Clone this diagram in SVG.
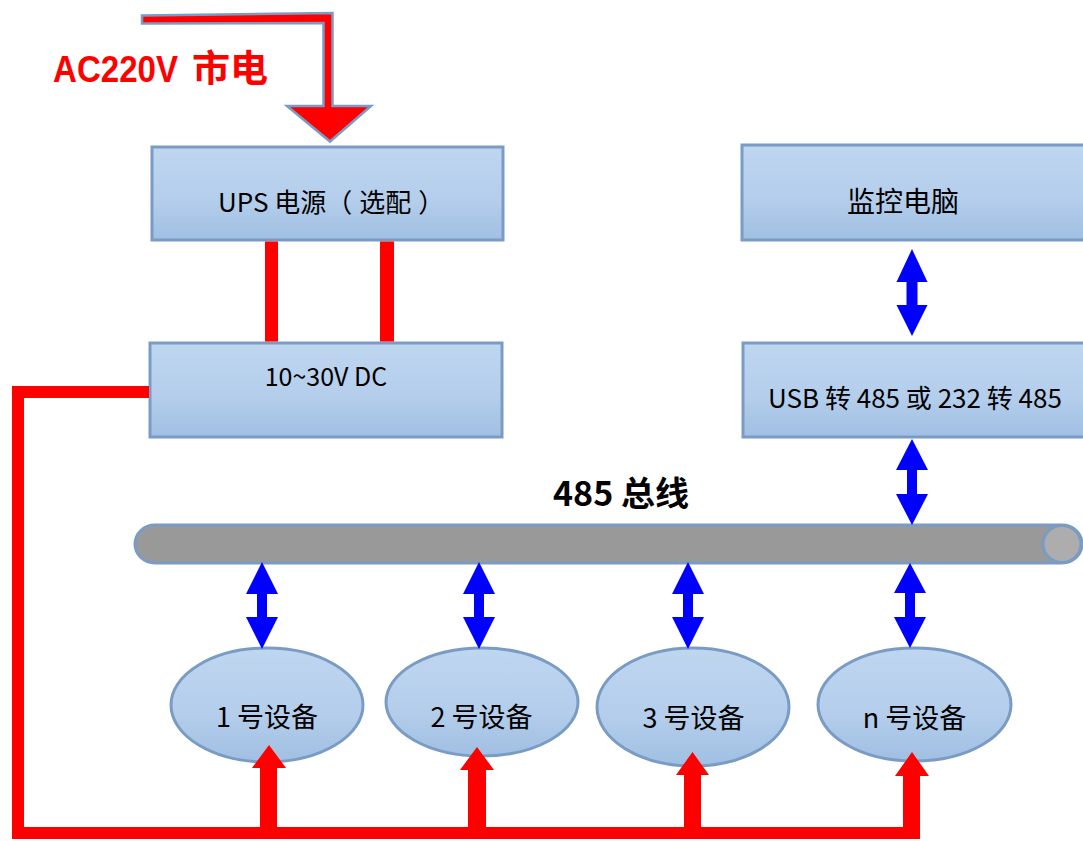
<svg xmlns="http://www.w3.org/2000/svg" width="1083" height="841" viewBox="0 0 1083 841">
<style>
.box{stroke:#7a9cc4;stroke-width:3;fill:url(#g)}
.t{font-family:"Noto Sans CJK SC","Liberation Sans",sans-serif;fill:#000;text-anchor:middle}
.blue{fill:#0000ff}
.red{fill:#ff0000}
</style>
<defs>
<linearGradient id="g" x1="0" y1="0" x2="0" y2="1">
<stop offset="0" stop-color="#bfd6f0"/>
<stop offset="0.6" stop-color="#b3cdeb"/>
<stop offset="1" stop-color="#a0bfe2"/>
</linearGradient>
</defs>
<rect width="1083" height="841" fill="#fff"/>

<g id="ac-label">
<text x="53" y="82" font-family="Liberation Sans,sans-serif" font-weight="bold" font-size="36" fill="#ff0000" textLength="125" lengthAdjust="spacingAndGlyphs">AC220V</text>
<text x="192" y="82" font-family="Noto Sans CJK SC,sans-serif" font-weight="bold" font-size="37" fill="#ff0000" textLength="76" lengthAdjust="spacingAndGlyphs">市电</text>
</g>

<g id="ups">
<rect class="box" x="152" y="147" width="351" height="93"/>
<text x="218" y="212" font-family="Noto Sans CJK SC,Liberation Sans,sans-serif" font-size="26">UPS 电源（<tspan dx="7">选配</tspan><tspan dx="7">）</tspan></text>
</g>

<g id="dc">
<rect class="box" x="150" y="343" width="352" height="94"/>
<text class="t" x="326" y="386" font-size="25">10~30V DC</text>
</g>

<g id="pc">
<rect class="box" x="742" y="145" width="350" height="95"/>
<text class="t" x="903" y="212" font-size="28">监控电脑</text>
</g>

<g id="usb">
<rect class="box" x="743" y="343" width="350" height="94"/>
<text class="t" x="915" y="408" font-size="26">USB 转 485 或 232 转 485</text>
</g>

<g id="bus">
<path d="M155,525 H1062 A20,19 0 0 1 1062,563 H155 A20,19 0 0 1 155,525 Z" fill="#999999" stroke="#7a9cc4" stroke-width="3"/>
<ellipse cx="1062" cy="544" rx="19" ry="18.5" fill="#adadad" stroke="#7a9cc4" stroke-width="3"/>
<text x="621" y="506" font-family="Noto Sans CJK SC,Liberation Sans,sans-serif" font-weight="bold" font-size="34" text-anchor="middle">485 总线</text>
</g>

<g id="dev1">
<ellipse class="box" cx="267" cy="705" rx="96" ry="57"/>
<text class="t" x="267" y="727" font-size="27">1 号设备</text>
</g>
<g id="dev2">
<ellipse class="box" cx="482" cy="702" rx="96" ry="54"/>
<text class="t" x="481.5" y="727" font-size="27">2 号设备</text>
</g>
<g id="dev3">
<ellipse class="box" cx="693" cy="707" rx="96" ry="59"/>
<text class="t" x="693.5" y="728" font-size="27">3 号设备</text>
</g>
<g id="devn">
<ellipse class="box" cx="914.5" cy="704.5" rx="96.5" ry="56.5"/>
<text class="t" x="914.5" y="728" font-size="27">n 号设备</text>
</g>

<g id="connectors">
<polygon points="142,15.5 332.5,13 332.5,106 371,106 330,141.5 287,106 323.5,106 323.5,23 142,23.5" fill="#ff0000" stroke="#7a9cc4" stroke-width="2.5" stroke-linejoin="miter"/>
<rect class="red" x="265" y="241.5" width="13" height="100"/>
<rect class="red" x="380" y="241.5" width="14" height="100"/>
<polyline points="149,392 18,392 18,833 920,833" fill="none" stroke="#ff0000" stroke-width="12"/>
<polygon class="red" points="260,833 260,768 252,768 269,745 286,768 277,768 277,833"/>
<polygon class="red" points="468,833 468,770 460,770 477,747 494,770 486,770 486,833"/>
<polygon class="red" points="684,833 684,775 676,775 692.5,752 709,775 701,775 701,833"/>
<polygon class="red" points="903,839 903,776 895,776 912,752 929,776 920,776 920,839"/>
<polygon class="blue" points="912,249 927.5,282 917.5,282 917.5,305 927.5,305 912,336 896.5,305 906.5,305 906.5,282 896.5,282"/>
<polygon class="blue" points="912,439 928,470 917,470 917,494 928,494 912,525 896,494 907,494 907,470 896,470"/>
<polygon class="blue" points="262,562 278,594 267,594 267,617 278,617 262,649 246,617 257,617 257,594 246,594"/>
<polygon class="blue" points="479,562 495,594 484,594 484,617 495,617 479,649 463,617 474,617 474,594 463,594"/>
<polygon class="blue" points="688,562 704,594 693,594 693,617 704,617 688,649 672,617 683,617 683,594 672,594"/>
<polygon class="blue" points="910,563 926,593 915,593 915,617 926,617 910,648 894,617 905,617 905,593 894,593"/>
</g>
</svg>
